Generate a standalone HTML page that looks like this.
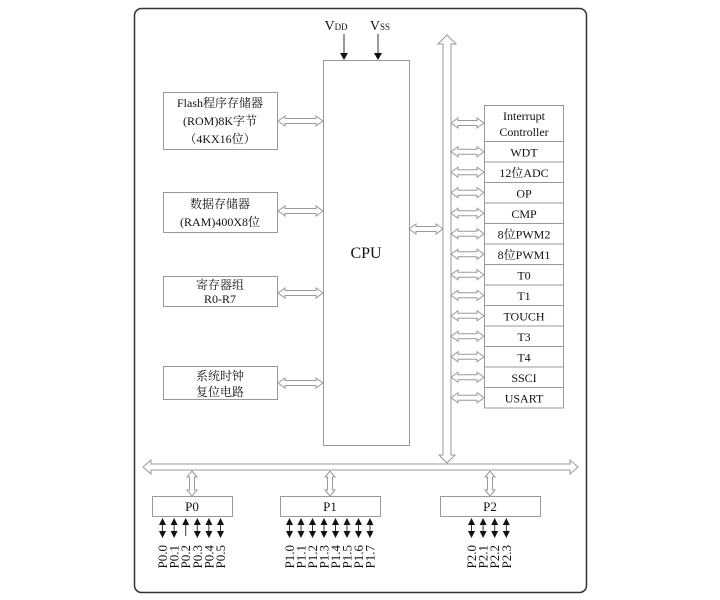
<!DOCTYPE html>
<html><head><meta charset="utf-8"><style>
html,body{margin:0;padding:0;background:#fff;}
svg{display:block;}
text{font-family:"Liberation Serif","Noto Serif CJK SC","Noto Sans CJK SC",serif;fill:#111;}
</style></head><body>
<svg id="s" width="720" height="600" viewBox="0 0 720 600" xmlns="http://www.w3.org/2000/svg">
<rect x="134.5" y="8.5" width="452" height="584" rx="7" fill="#fff" stroke="#333" stroke-width="1.5"/>
<rect x="323.5" y="60.5" width="86" height="385" fill="#fff" stroke="#999"/>
<text x="366" y="258" font-size="16" text-anchor="middle">CPU</text>
<text x="336" y="30" font-size="14" text-anchor="middle">V<tspan font-size="9">DD</tspan></text>
<text x="380" y="30" font-size="14" text-anchor="middle">V<tspan font-size="9">SS</tspan></text>
<line x1="344" y1="34" x2="344" y2="54" stroke="#333"/>
<polygon points="340,53 348,53 344,60" fill="#111"/>
<line x1="378" y1="34" x2="378" y2="54" stroke="#333"/>
<polygon points="374,53 382,53 378,60" fill="#111"/>
<polygon points="447,35 456,44 451,44 451,455 455,455 447,463 439,455 443,455 443,44 438,44" fill="#fff" stroke="#999"/>
<polygon points="143,467 151,460 151,464 570,464 570,460 578,467 570,474 570,470 151,470 151,474" fill="#fff" stroke="#999"/>
<rect x="163.5" y="92.5" width="114" height="57" fill="#fff" stroke="#999"/>
<text x="220" y="107" font-size="12" text-anchor="middle">Flash程序存储器</text>
<text x="220" y="125" font-size="12" text-anchor="middle">(ROM)8K字节</text>
<text x="220" y="143" font-size="12" text-anchor="middle">（4KX16位）</text>
<rect x="163.5" y="192.5" width="114" height="40" fill="#fff" stroke="#999"/>
<text x="220" y="208" font-size="12" text-anchor="middle">数据存储器</text>
<text x="220" y="226" font-size="12" text-anchor="middle">(RAM)400X8位</text>
<rect x="163.5" y="276.5" width="114" height="30" fill="#fff" stroke="#999"/>
<text x="220" y="289" font-size="12" text-anchor="middle">寄存器组</text>
<text x="220" y="303" font-size="12" text-anchor="middle">R0-R7</text>
<rect x="163.5" y="366.5" width="114" height="33" fill="#fff" stroke="#999"/>
<text x="220" y="380" font-size="12" text-anchor="middle">系统时钟</text>
<text x="220" y="396" font-size="12" text-anchor="middle">复位电路</text>
</svg>
<script>
var NS="http://www.w3.org/2000/svg",s=document.getElementById('s');
function el(t,a,txt){var e=document.createElementNS(NS,t);for(var k in a)e.setAttribute(k,a[k]);if(txt)e.textContent=txt;s.appendChild(e);return e;}
function harr(x1,x2,y){var h=7;el('polygon',{points:[x1,y,x1+h,y-5,x1+h,y-2.5,x2-h,y-2.5,x2-h,y-5,x2,y,x2-h,y+5,x2-h,y+2.5,x1+h,y+2.5,x1+h,y+5].join(' '),fill:'#fff',stroke:'#999'});}
function varr(x,y1,y2){var h=6;el('polygon',{points:[x,y1,x+5,y1+h,x+2.5,y1+h,x+2.5,y2-h,x+5,y2-h,x,y2,x-5,y2-h,x-2.5,y2-h,x-2.5,y1+h,x-5,y1+h].join(' '),fill:'#fff',stroke:'#999'});}
harr(278,323,121);harr(278,323,211);harr(278,323,293);harr(278,323,383);
harr(409,443,229);
var names=['WDT','12位ADC','OP','CMP','8位PWM2','8位PWM1','T0','T1','TOUCH','T3','T4','SSCI','USART'];
el('rect',{x:484.5,y:105.5,width:79,height:36,fill:'#fff',stroke:'#999'});
el('text',{x:524,y:120,'font-size':12,'text-anchor':'middle'},'Interrupt');
el('text',{x:524,y:136,'font-size':12,'text-anchor':'middle'},'Controller');
harr(451,484,123);
var y=141.5,hh=20.5;
names.forEach(function(n,i){var yy=y+i*hh;el('rect',{x:484.5,y:yy,width:79,height:hh,fill:'#fff',stroke:'#999'});
el('text',{x:524,y:yy+15,'font-size':12,'text-anchor':'middle'},n);harr(451,484,yy+hh/2);});
function port(name,bx,bw,pins,skip){var cx=bx+bw/2;varr(cx,471,496);
el('rect',{x:bx+.5,y:496.5,width:bw,height:20,fill:'#fff',stroke:'#999'});
el('text',{x:cx,y:511,'font-size':13,'text-anchor':'middle'},name);
pins.forEach(function(p,i){var x=p.x;el('line',{x1:x,y1:520,x2:x,y2:536,stroke:'#333'});
el('polygon',{points:[x-3.5,525,x+3.5,525,x,518].join(' '),fill:'#111'});
if(i!==skip)el('polygon',{points:[x-3.5,531,x+3.5,531,x,538].join(' '),fill:'#111'});
el('text',{x:0,y:0,'font-size':13,transform:'translate('+(x+4.5)+',545) rotate(-90)','text-anchor':'end'},p.l);});}
function mk(pre,x0,n,d){var a=[];for(var i=0;i<n;i++)a.push({x:x0+i*d,l:pre+i});return a;}
port('P0',152,80,mk('P0.',162.5,6,11.6),2);
port('P1',280,100,mk('P1.',289.5,8,11.5),-1);
port('P2',440,100,mk('P2.',471.5,4,11.6),-1);
</script>
</body></html>
